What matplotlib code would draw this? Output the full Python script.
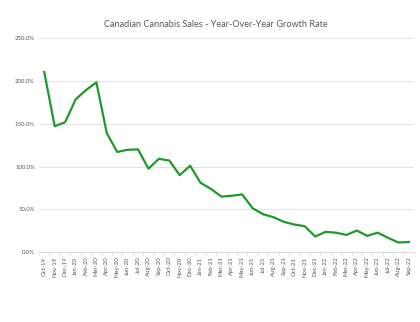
import matplotlib.pyplot as plt
from matplotlib.ticker import FuncFormatter, FixedLocator, NullLocator

months = ['Oct-19', 'Nov-19', 'Dec-19', 'Jan-20', 'Feb-20', 'Mar-20', 'Apr-20', 'May-20',
          'Jun-20', 'Jul-20', 'Aug-20', 'Sep-20', 'Oct-20', 'Nov-20', 'Dec-20', 'Jan-21',
          'Feb-21', 'Mar-21', 'Apr-21', 'May-21', 'Jun-21', 'Jul-21', 'Aug-21', 'Sep-21',
          'Oct-21', 'Nov-21', 'Dec-21', 'Jan-22', 'Feb-22', 'Mar-22', 'Apr-22', 'May-22',
          'Jun-22', 'Jul-22', 'Aug-22', 'Sep-22']
growth = [210, 147, 151.5, 178, 189, 198, 139, 117, 119.5, 120, 97.5, 109,
          107, 90, 101, 81, 74, 65, 66, 67.5, 51.5, 44.5, 41, 35.6,
          32.5, 30.6, 18.5, 24, 23, 20.4, 25.5, 19.3, 23, 17, 11.5, 12.2]
y_ticks = [0, 50, 100, 150, 200, 250]

grey = '#595959'

fig = plt.figure(figsize=(4.2, 3.22), dpi=100)
ax = fig.add_axes([0.093, 0.216, 0.893, 0.667])

x = list(range(len(months)))
ax.plot(x, growth, color='#1f9a2a', lw=1.6, solid_joinstyle='round')

ax.set_xlim(-0.5, len(months) - 0.5)
ax.set_ylim(0, 250)
ax.set_yticks(y_ticks)
ax.yaxis.set_major_formatter(FuncFormatter(lambda v, p: '{:.1f}%'.format(v)))
ax.grid(axis='y', color='#e3e3e3', lw=0.7)
ax.set_axisbelow(True)

ax.set_xticks(x)
ax.set_xticklabels(months, rotation=90, fontsize=4.3, color=grey, family='Lato')
ax.xaxis.set_minor_locator(FixedLocator([i - 0.5 for i in range(len(months) + 1)]))
ax.tick_params(axis='x', which='major', length=0, pad=3)
ax.tick_params(axis='x', which='minor', length=2.5, color='#d9d9d9', width=0.6)
ax.tick_params(axis='y', length=0, labelsize=4.3, labelcolor=grey, pad=3)
for lab in ax.get_yticklabels():
    lab.set_family('Lato')

for s in ['top', 'right', 'left']:
    ax.spines[s].set_visible(False)
ax.spines['bottom'].set_color('#d9d9d9')
ax.spines['bottom'].set_linewidth(0.7)

fig.text(0.515, 0.925, 'Canadian Cannabis Sales - Year-Over-Year Growth Rate',
         ha='center', va='center', fontsize=6.6, color=grey, family='Lato')

fig.savefig('out.png', dpi=100)
